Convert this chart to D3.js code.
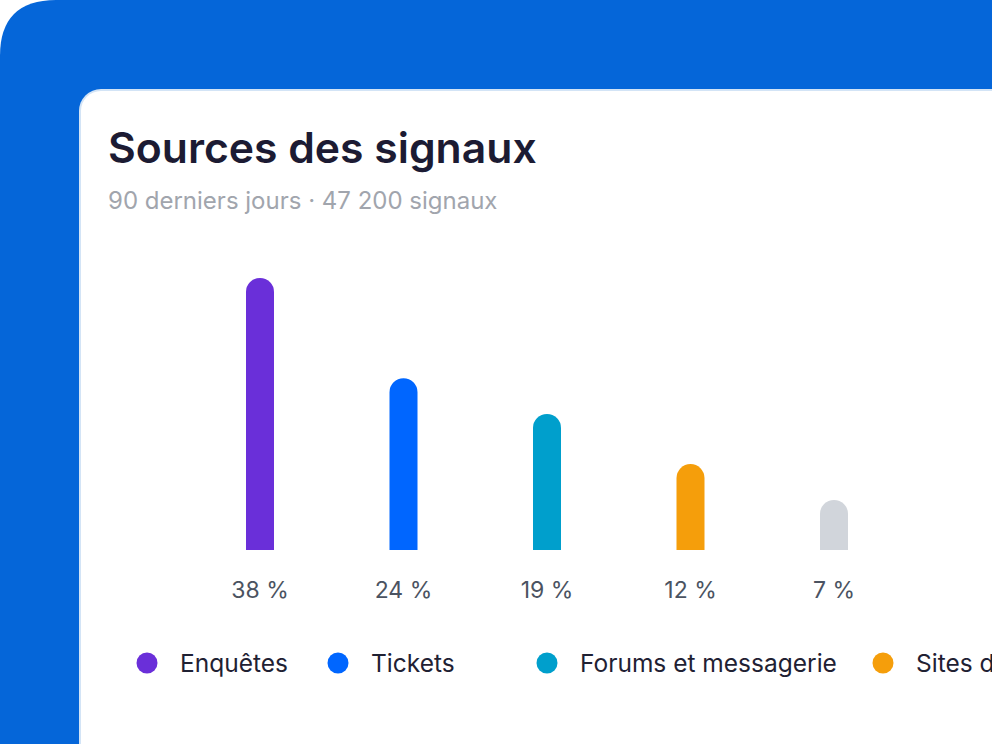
<!DOCTYPE html>
<html><head><meta charset="utf-8">
<script src="https://cdn.jsdelivr.net/npm/d3@7"></script>
<style>html,body{margin:0;padding:0;background:#fff;overflow:hidden}svg{display:block}</style>
</head><body>
<svg id="c" width="992" height="744"></svg>
<script>
const categories = ["Enquêtes", "Tickets", "Forums et messagerie", "Sites d’avis", "Autres"];
const values = [38, 24, 19, 12, 7];
const labels = ["38 %", "24 %", "19 %", "12 %", "7 %"];
const colors = ["#6a2fd9", "#0066ff", "#009fcc", "#f59e0b", "#d1d5db"];
const title = "Sources des signaux";
const subtitle = "90 derniers jours · 47 200 signaux";

const svg = d3.select("#c");
const W = 992, H = 744;

// blue backdrop with rounded top-left corner
const R = 56;
svg.append("path")
  .attr("d", `M0,${H} L0,${R} Q0,0 ${R},0 L${W},0 L${W},${H} Z`)
  .attr("fill", "#0566d9");

// card
svg.append("rect").attr("x", 79).attr("y", 89).attr("width", 1000).attr("height", 800)
  .attr("rx", 22).attr("fill", "#d3e4f6");
svg.append("rect").attr("x", 81).attr("y", 91).attr("width", 1000).attr("height", 800)
  .attr("rx", 20).attr("fill", "#ffffff");

svg.append("text").attr("x", 108).attr("y", 163)
  .attr("font-family", "Inter, sans-serif").attr("font-weight", 600).attr("font-size", 42.7)
  .attr("fill", "#1c1b33").text(title);
svg.append("text").attr("x", 108).attr("y", 209)
  .attr("font-family", "Inter, sans-serif").attr("font-weight", 400).attr("font-size", 24)
  .attr("fill", "#a1a5ad").text(subtitle);

const x = d3.scalePoint().domain(categories).range([260, 834]);
const y = d3.scaleLinear().domain([0, 38]).range([550, 278]);
const bw = 28;

function barPath(cx, top, bottom, w) {
  const r = w / 2, x0 = cx - r, x1 = cx + r;
  return `M${x0},${bottom} L${x0},${top + r} A${r},${r} 0 0 1 ${x1},${top + r} L${x1},${bottom} Z`;
}

svg.append("g").selectAll("path").data(categories).join("path")
  .attr("d", (d, i) => barPath(x(d), y(values[i]), y(0), bw))
  .attr("fill", (d, i) => colors[i]);

svg.append("g").selectAll("text").data(categories).join("text")
  .attr("x", d => x(d)).attr("y", 598).attr("text-anchor", "middle")
  .attr("font-family", "Inter, sans-serif").attr("font-size", 23).attr("fill", "#4b5361")
  .text((d, i) => labels[i]);

// legend (row continues past the visible right edge, as in the reference)
const legendX = [147, 338, 547, 883];
const lg = svg.append("g").selectAll("g").data(categories.slice(0, 4)).join("g")
  .attr("transform", (d, i) => `translate(${legendX[i]},663)`);
lg.append("circle").attr("r", 10.5).attr("fill", (d, i) => colors[i]);
lg.append("text").attr("x", 33).attr("y", 9)
  .attr("font-family", "Inter, sans-serif").attr("font-size", 24.5).attr("fill", "#1f2133")
  .text(d => d);
</script>
</body></html>
